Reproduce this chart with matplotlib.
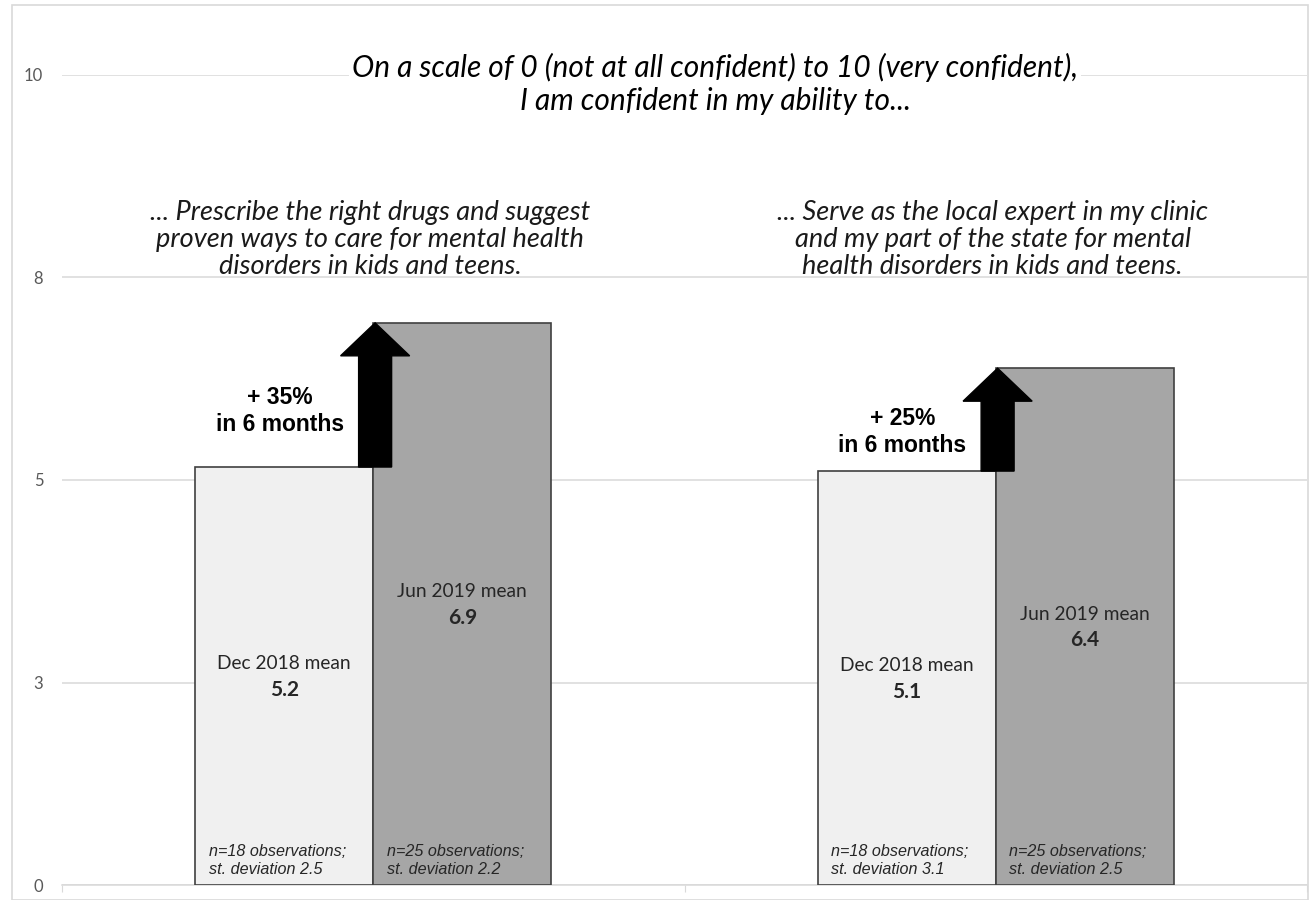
import matplotlib.pyplot as plt
from matplotlib.patches import FancyArrow, Rectangle

# data
questions = [
    "... Prescribe the right drugs and suggest\nproven ways to care for mental health\ndisorders in kids and teens.",
    "... Serve as the local expert in my clinic\nand my part of the state for mental\nhealth disorders in kids and teens.",
]
dec_means = [5.16, 5.11]
jun_means = [6.94, 6.38]
dec_notes = ["n=18 observations;\nst. deviation 2.5", "n=18 observations;\nst. deviation 3.1"]
jun_notes = ["n=25 observations;\nst. deviation 2.2", "n=25 observations;\nst. deviation 2.5"]
dec_labels = ["5.2", "5.1"]
jun_labels = ["6.9", "6.4"]
gains = ["+ 35%", "+ 25%"]
y_ticks = [0, 2.5, 5, 7.5, 10]
y_tick_labels = ["0", "3", "5", "8", "10"]

W, H = 1309, 900
fig = plt.figure(figsize=(W / 100, H / 100), dpi=100)
fig.patch.set_facecolor("white")
fig.patches.append(Rectangle((12 / W, 0), (W - 13) / W, (H - 5) / H, transform=fig.transFigure,
                             fill=False, edgecolor="#d9d9d9", linewidth=1.2))

ax = fig.add_axes([62 / W, 15 / H, (1307 - 62) / W, (885 - 75) / H])
ax.set_xlim(-0.5, 1.5)
ax.set_ylim(0, 10)

bw = 0.286
x = [0, 1]
ax.bar([i - bw / 2 for i in x], dec_means, width=bw, color="#f0f0f0", edgecolor="#404040",
       linewidth=1.2, zorder=3)
ax.bar([i + bw / 2 for i in x], jun_means, width=bw, color="#a6a6a6", edgecolor="#404040",
       linewidth=1.2, zorder=3)

# grid and axes
ax.set_yticks(y_ticks)
ax.set_yticklabels(y_tick_labels, fontsize=12, color="#595959", family="Lato")
ax.yaxis.grid(True, color="#d9d9d9", linewidth=1.1, zorder=0)
ax.tick_params(axis="y", length=0, pad=13.5)
ax.set_xticks([-0.5, 0.5, 1.5])
ax.set_xticklabels([])
ax.tick_params(axis="x", length=5, color="#d9d9d9", direction="out")
for s in ["top", "right", "left"]:
    ax.spines[s].set_visible(False)
ax.spines["bottom"].set_color("#d9d9d9")
ax.spines["bottom"].set_linewidth(1.1)

txt = "#262626"
for i in x:
    dx = i - bw / 2
    jx = i + bw / 2
    # mean labels at mid height
    ax.text(dx, dec_means[i] / 2 + 0.15, "Dec 2018 mean", ha="center", va="center",
            fontsize=13.8, color=txt, family="Lato", zorder=5)
    ax.text(dx, dec_means[i] / 2 - 0.17, dec_labels[i], ha="center", va="center",
            fontsize=15, fontweight="bold", color=txt, family="Lato", zorder=5)
    ax.text(jx, jun_means[i] / 2 + 0.15, "Jun 2019 mean", ha="center", va="center",
            fontsize=13.8, color=txt, family="Lato", zorder=5)
    ax.text(jx, jun_means[i] / 2 - 0.17, jun_labels[i], ha="center", va="center",
            fontsize=15, fontweight="bold", color=txt, family="Lato", zorder=5)
    # notes
    ax.text(i - bw + 0.022, 0.1, dec_notes[i], ha="left", va="bottom", fontsize=11.6,
            style="italic", color=txt, family="Liberation Sans", linespacing=1.2, zorder=5)
    ax.text(i + 0.022, 0.1, jun_notes[i], ha="left", va="bottom", fontsize=11.6,
            style="italic", color=txt, family="Liberation Sans", linespacing=1.2, zorder=5)
    # arrow
    ax.add_patch(FancyArrow(i + 0.003, dec_means[i], 0, jun_means[i] - dec_means[i],
                            width=0.053, head_width=0.111, head_length=0.407,
                            length_includes_head=True, color="black", zorder=4))
    # question text
    ax.text(i - 0.005, 7.97, questions[i], ha="center", va="center", fontsize=19.5,
            style="italic", color="#1a1a1a", family="Lato", linespacing=1.12, zorder=2)

ax.text(-0.15, 5.85, gains[0] + "\nin 6 months", ha="center", va="center", fontsize=16.5,
        fontweight="bold", color="black", family="Liberation Sans", linespacing=1.2, zorder=5)
ax.text(0.85, 5.59, gains[1] + "\nin 6 months", ha="center", va="center", fontsize=16.5,
        fontweight="bold", color="black", family="Liberation Sans", linespacing=1.2, zorder=5)

ax.text(0.549, 9.89, "On a scale of 0 (not at all confident) to 10 (very confident),\nI am confident in my ability to...",
        ha="center", va="center", fontsize=21.5, style="italic", color="black", family="Lato",
        linespacing=1.25, bbox=dict(facecolor="white", edgecolor="none", pad=2), zorder=2)

fig.savefig("out.png", dpi=100)
